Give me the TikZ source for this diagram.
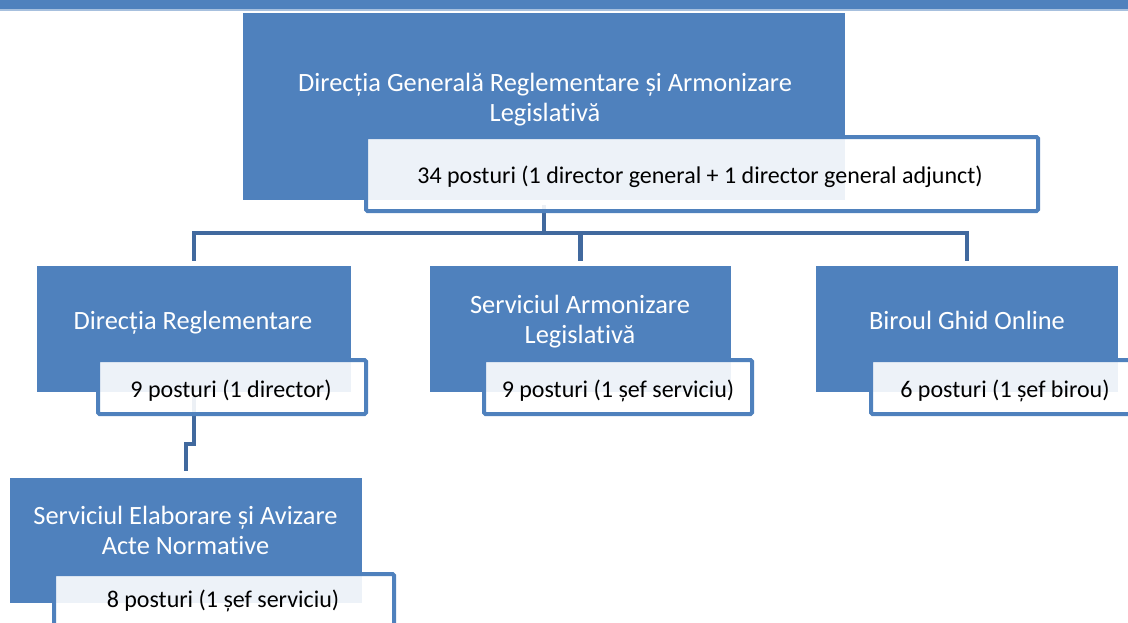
\documentclass[tikz,border=0pt]{standalone}
\usepackage{fontspec}
\setmainfont{Carlito}[Ligatures=NoCommon]
\definecolor{boxblue}{HTML}{4F81BD}
\definecolor{wireblue}{HTML}{41699E}
\definecolor{barline}{HTML}{A7C0DE}

\begin{document}
\begin{tikzpicture}[x=1pt, y=-1pt,
	unit/.style={shape=rectangle, fill=boxblue, inner sep=0pt},
	posts/.style={shape=rectangle, draw=boxblue, line width=4pt, fill=white, fill opacity=0.9, rounded corners=1.5pt, inner sep=0pt, minimum height=54pt},
	title/.style={anchor=base, align=center, text=white, inner sep=0pt, font=\fontsize{26.4}{30}\selectfont},
	count/.style={anchor=base, text=black, inner sep=0pt, font=\fontsize{24}{28}\selectfont},
	wire/.style={draw=wireblue, line width=4.5pt, shorten <=5pt, shorten >=5pt}]
	\useasboundingbox (0, 0) rectangle (1128, 622);
	\clip (0, 0) rectangle (1128, 622);
	% Header bar:
	\fill[boxblue] (0, 0) rectangle (1128, 9.3);
	\fill[barline] (0, 9.3) rectangle (1128, 10.8);
	% Units:
	\node[unit, minimum width=602pt, minimum height=187pt] (gen) at (544, 106.5){};
	\node[unit, minimum width=314pt, minimum height=126pt] (regl) at (194, 329){};
	\node[unit, minimum width=301pt, minimum height=126pt] (armon) at (580.5, 329){};
	\node[unit, minimum width=302pt, minimum height=126pt] (ghid) at (967, 329){};
	\node[unit, minimum width=352pt, minimum height=125pt] (avizare) at (186, 540.5){};
	% Wires:
	\draw[wire] (gen.south) -- ++(0, 33) -| (regl.north);
	\draw[wire] (gen.south) -- ++(0, 33) -| (armon.north);
	\draw[wire] (gen.south) -- ++(0, 33) -| (ghid.north);
	\draw[wire, shorten >=7pt] (regl.south) -- ++(0, 52) -| (avizare.north);
	% Posts boxes:
	\node[posts, minimum width=672pt, minimum height=74pt] (gen-posts) at (702, 174){};
	\node[posts, minimum width=268pt] (regl-posts) at (232, 387){};
	\node[posts, minimum width=268pt] (armon-posts) at (618, 387){};
	\node[posts, minimum width=268pt] (ghid-posts) at (1005, 387){};
	\node[posts, minimum width=340pt] (avizare-posts) at (224, 601){};
	% Labels (base = last line):
	\node[title] (gen-name) at (545, 121){Direcția Generală Reglementare și Armonizare\\Legislativă};
	\node[count] (gen-count) at (700, 183){34 posturi (1 director general + 1 director general adjunct)};
	\node[title] (regl-name) at (193, 329){Direcția Reglementare};
	\node[count] (regl-count) at (231, 397){9 posturi (1 director)};
	\node[title] (armon-name) at (580, 343){Serviciul Armonizare\\Legislativă};
	\node[count] (armon-count) at (618, 397){9 posturi (1 șef serviciu)};
	\node[title] (ghid-name) at (967, 329){Biroul Ghid Online};
	\node[count] (ghid-count) at (1005, 397){6 posturi (1 șef birou)};
	\node[title] (avizare-name) at (185.5, 554){Serviciul Elaborare și Avizare\\Acte Normative};
	\node[count] (avizare-count) at (223, 607){8 posturi (1 șef serviciu)};
\end{tikzpicture}
\end{document}
